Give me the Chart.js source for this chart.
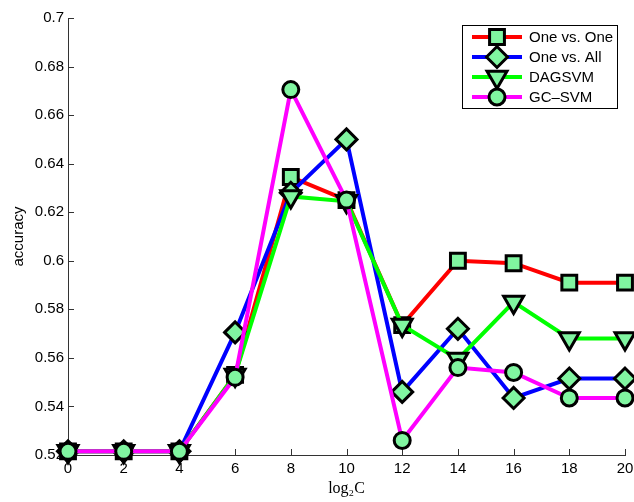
<!DOCTYPE html>
<html>
<head>
<meta charset="utf-8">
<script src="https://cdn.jsdelivr.net/npm/chart.js@4.4.1/dist/chart.umd.min.js"></script>
<style>
html,body{margin:0;padding:0;background:#fff;}
#wrap{width:634px;height:502px;position:relative;}
</style>
</head>
<body>
<div id="wrap"><canvas id="c" width="634" height="502"></canvas></div>
<script>
// ---- data ----
const xValues = [0, 2, 4, 6, 8, 10, 12, 14, 16, 18, 20];
const oneVsOne = [0.5215, 0.5215, 0.5215, 0.553, 0.6345, 0.625, 0.5735, 0.600, 0.599, 0.591, 0.591];
const oneVsAll = [0.5215, 0.5215, 0.5215, 0.5705, 0.628, 0.650, 0.546, 0.572, 0.5435, 0.5515, 0.5515];
const dagsvm   = [0.5215, 0.5215, 0.5215, 0.553, 0.6265, 0.6245, 0.5735, 0.5595, 0.583, 0.568, 0.568];
const gcsvm    = [0.5215, 0.5215, 0.5215, 0.552, 0.6705, 0.625, 0.526, 0.556, 0.554, 0.5435, 0.5435];
const seriesLabels = ['One vs. One', 'One vs. All', 'DAGSVM', 'GC\u2013SVM'];
const xTicks = [0, 2, 4, 6, 8, 10, 12, 14, 16, 18, 20];
const yTicks = [0.52, 0.54, 0.56, 0.58, 0.6, 0.62, 0.64, 0.66, 0.68, 0.7];
const yTickLabels = ['0.52', '0.54', '0.56', '0.58', '0.6', '0.62', '0.64', '0.66', '0.68', '0.7'];
const xTitle = 'log\u2082C';
const yTitle = 'accuracy';

const FACE = 'rgb(128,245,160)';
const FONT = 'Liberation Sans, Arial, sans-serif';

function pts(arr) { return arr.map((v, i) => ({x: xValues[i], y: v})); }

function ds(label, data, color, style, radius, rot, order) {
  return {
    label, data: pts(data), borderColor: color, borderWidth: 4,
    pointStyle: style, pointRadius: radius, pointRotation: rot,
    pointBackgroundColor: FACE, pointBorderColor: '#000', pointBorderWidth: 3,
    pointHoverRadius: radius, tension: 0, clip: false, order, fill: false
  };
}

const datasets = [
  ds(seriesLabels[0], oneVsOne, '#ff0000', 'rect', 10.5, 0, 4),
  ds(seriesLabels[1], oneVsAll, '#0000ff', 'rectRot', 10.5, 0, 3),
  ds(seriesLabels[2], dagsvm, '#00ff00', 'triangle', 11.5, 180, 2),
  ds(seriesLabels[3], gcsvm, '#ff00ff', 'circle', 8, 0, 1)
];

const tickPlugin = {
  id: 'inTicks',
  beforeDatasetsDraw(chart) {
    const ctx = chart.ctx, a = chart.chartArea;
    const xs = chart.scales.x, ys = chart.scales.y;
    ctx.save();
    ctx.strokeStyle = '#333'; ctx.lineWidth = 1;
    ctx.beginPath();
    xs.ticks.forEach(t => {
      const px = Math.round(xs.getPixelForValue(t.value)) + 0.5;
      ctx.moveTo(px, a.bottom); ctx.lineTo(px, a.bottom - 6);
    });
    ys.ticks.forEach(t => {
      const py = Math.round(ys.getPixelForValue(t.value)) + 0.5;
      ctx.moveTo(a.left, py); ctx.lineTo(a.left + 6, py);
    });
    ctx.stroke();
    ctx.restore();
  }
};

function drawMarker(ctx, d, x, y) {
  const opts = {pointStyle: d.pointStyle, radius: d.pointRadius, rotation: d.pointRotation, borderWidth: 3};
  ctx.save();
  ctx.fillStyle = FACE; ctx.strokeStyle = '#000'; ctx.lineWidth = 3;
  if (Chart.helpers && Chart.helpers.drawPoint) {
    Chart.helpers.drawPoint(ctx, opts, x, y);
  }
  ctx.restore();
}

const legendPlugin = {
  id: 'matLegend',
  afterDraw(chart) {
    const ctx = chart.ctx;
    const bx = 462, by = 25, bw = 155, bh = 83;
    ctx.save();
    ctx.fillStyle = '#fff';
    ctx.fillRect(bx, by, bw, bh);
    ctx.strokeStyle = '#000'; ctx.lineWidth = 1;
    ctx.strokeRect(bx + 0.5, by + 0.5, bw, bh);
    chart.data.datasets.forEach((d, i) => {
      const y = by + 12 + i * 20;
      ctx.strokeStyle = d.borderColor; ctx.lineWidth = 4;
      ctx.beginPath(); ctx.moveTo(472, y); ctx.lineTo(522, y); ctx.stroke();
      drawMarker(ctx, d, 497, y);
      ctx.fillStyle = '#000';
      ctx.font = '15px ' + FONT;
      ctx.textBaseline = 'middle'; ctx.textAlign = 'left';
      ctx.fillText(d.label, 529, y + 1);
    });
    ctx.restore();
  }
};

new Chart(document.getElementById('c'), {
  type: 'line',
  data: {datasets},
  options: {
    responsive: false, animation: false,
    layout: {autoPadding: false, padding: {top: 18, right: 9, left: 0, bottom: 0}},
    plugins: {legend: {display: false}, tooltip: {enabled: false}},
    scales: {
      x: {
        type: 'linear', min: 0, max: 20,
        grid: {display: false, drawTicks: false},
        border: {display: true, color: '#333', width: 1},
        afterBuildTicks: s => { s.ticks = xTicks.map(v => ({value: v})); },
        ticks: {color: '#000', font: {family: FONT, size: 15}, padding: 5, maxRotation: 0,
                callback: v => String(v)},
        title: {display: true, text: xTitle, color: '#000',
                font: {family: 'Liberation Serif, DejaVu Serif, serif', size: 16}, padding: {top: 2, bottom: 4}},
        afterFit: s => { s.height = 47; s.paddingLeft = 0; s.paddingRight = 0; }
      },
      y: {
        type: 'linear', min: 0.52, max: 0.7,
        grid: {display: false, drawTicks: false},
        border: {display: true, color: '#333', width: 1},
        afterBuildTicks: s => { s.ticks = yTicks.map(v => ({value: v})); },
        ticks: {color: '#000', font: {family: FONT, size: 15}, padding: 4,
                callback: (v) => { const i = yTicks.findIndex(t => Math.abs(t - v) < 1e-9); return i >= 0 ? yTickLabels[i] : ''; }},
        title: {display: true, text: yTitle, color: '#000', font: {family: FONT, size: 15}, padding: {top: 10, bottom: 0}},
        afterFit: s => { s.width = 68; s.paddingTop = 0; s.paddingBottom = 0; }
      }
    }
  },
  plugins: [tickPlugin, legendPlugin]
});
</script>
</body>
</html>
